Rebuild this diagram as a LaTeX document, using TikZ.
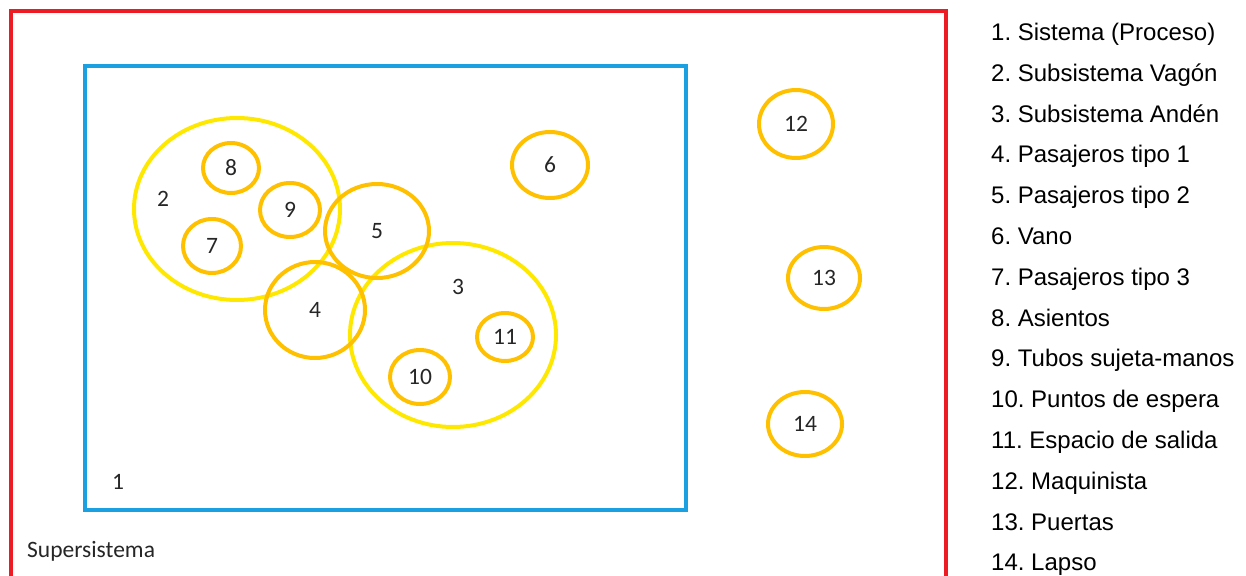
\documentclass[tikz,border=0pt]{standalone}
\usepackage{fontspec}
\setmainfont{Carlito}
\newfontfamily\legendfont{Liberation Sans}
\usetikzlibrary{shapes.geometric}
\frenchspacing

\definecolor{superred}{HTML}{ED1C24}
\definecolor{sysblue}{HTML}{1BA1E2}
\definecolor{subyellow}{HTML}{FFE800}
\definecolor{partorange}{HTML}{FFC000}

\tikzset{
    subsys/.style={ellipse, draw=subyellow, line width=4pt, inner sep=0pt},
    part/.style={ellipse, draw=partorange, line width=4pt, inner sep=0pt,
        text=black!85, font=\fontsize{23.5}{25}\selectfont},
    numlabel/.style={text=black!85, font=\fontsize{23.5}{25}\selectfont, inner sep=0pt}
}

\begin{document}
\begin{tikzpicture}[x=1pt, y=-1pt]
    \useasboundingbox (0,0) rectangle (1246,575);

    % supersistema y sistema
    \draw[superred, line width=4pt] (11,575.5) |- (946,11) -- (946,575.5);
    \draw[sysblue, line width=4.5pt] (85,66) rectangle (686,510);

    % subsistemas
    \node[subsys, minimum width=206pt, minimum height=182pt] (vagon) at (237,209) {};
    \node[subsys, minimum width=206pt, minimum height=184pt] (anden) at (453,335) {};

    % elementos
    \node[part, minimum width=56pt, minimum height=50pt] (asientos) at (231,168) {8};
    \node[part, minimum width=60pt, minimum height=54pt] (tubos) at (290,210) {9};
    \node[part, minimum width=58pt, minimum height=54pt] (tipo3) at (212,246) {7};
    \node[part, minimum width=104pt, minimum height=94pt] (tipo2) at (377,231) {5};
    \node[part, minimum width=100pt, minimum height=96pt] (tipo1) at (315,310) {4};
    \node[part, minimum width=56pt, minimum height=48pt] (salida) at (505,337) {11};
    \node[part, minimum width=60pt, minimum height=54pt] (espera) at (420,377) {10};
    \node[part, minimum width=76pt, minimum height=66pt] (vano) at (550,165) {6};

    % fuera del sistema
    \node[part, minimum width=74pt, minimum height=68pt] (maquinista) at (796,124) {12};
    \node[part, minimum width=72pt, minimum height=62pt] (puertas) at (824,278) {13};
    \node[part, minimum width=74pt, minimum height=64pt] (lapso) at (805,424) {14};

    % numeros sueltos
    \node[numlabel] (lbl2) at (163,199) {2};
    \node[numlabel] (lbl3) at (458,287) {3};
    \node[numlabel] (lbl1) at (118,482) {1};
    \node[numlabel, anchor=west] (super) at (27,551) {Supersistema};

    % leyenda
    \foreach \txt [count=\i] in {1. Sistema (Proceso), 2. Subsistema Vagón,
        3. Subsistema Andén, 4. Pasajeros tipo 1, 5. Pasajeros tipo 2, 6. Vano,
        7. Pasajeros tipo 3, 8. Asientos, 9. Tubos sujeta-manos,
        10. Puntos de espera, 11. Espacio de salida, 12. Maquinista,
        13. Puertas, 14. Lapso}
        \node[anchor=base west, inner sep=0pt, font=\legendfont\fontsize{24}{26}\selectfont]
            (ley\i) at (991, {40.5+(\i-1)*40.8}) {\txt};
\end{tikzpicture}
\end{document}
